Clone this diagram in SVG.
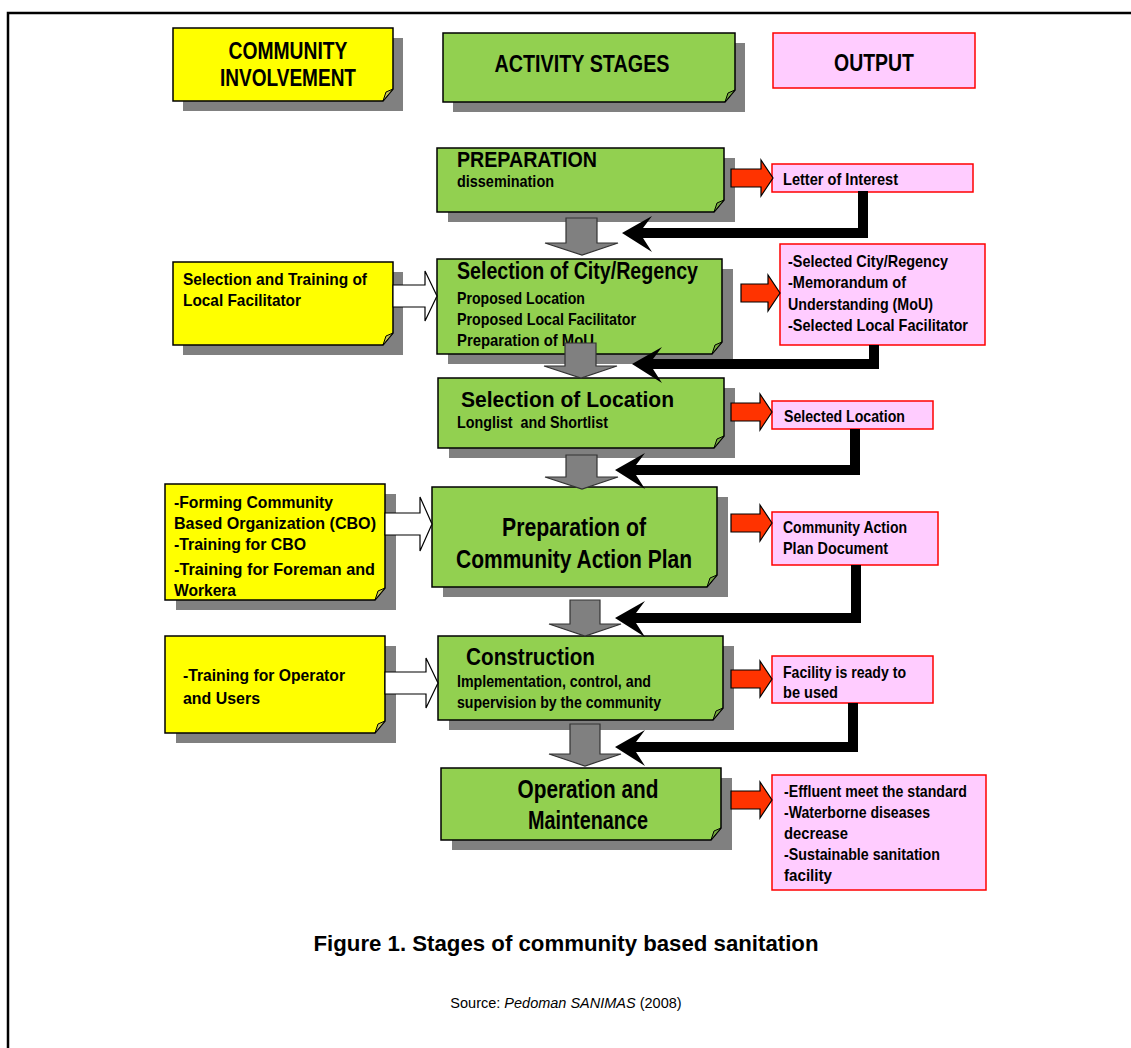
<svg xmlns="http://www.w3.org/2000/svg" width="1131" height="1048" viewBox="0 0 1131 1048">
<style>
text{font-family:"Liberation Sans Narrow","Liberation Sans",Arial,sans-serif;font-weight:bold;fill:#000}
.sh{fill:#808080}
.g{fill:#92D050;stroke:#000;stroke-width:1.5}
.y{fill:#FFFF00;stroke:#000;stroke-width:1.5}
.p{fill:#FFCCFF;stroke:#FF0000;stroke-width:1.5}
.fold{fill:#C8C850;stroke:#000;stroke-width:1}
.foldg{fill:#74A840;stroke:#000;stroke-width:1}
.ga{fill:#808080;stroke:#333;stroke-width:1.2}
.ra{fill:#FF3300;stroke:#000;stroke-width:1.2}
.wa{fill:#FFFFFF;stroke:#000;stroke-width:1.2}
.ba{fill:#000}
.hd{font-size:23px}
.tt{font-size:24px}
.t2{font-size:22px}
.bg{font-size:25px}
.sm{font-size:17px}
.s2{font-size:16px}
.cap{font-size:22px}
.src{font-family:"Liberation Sans",Arial,sans-serif;font-size:14.5px;font-weight:normal}
</style>

<path d="M8,1048 V13 H1131" fill="none" stroke="#000" stroke-width="2.5"/>

<!-- Header nodes -->
<g id="hdr-community">
<rect class="sh" x="183" y="38" width="220" height="73"/>
<path class="y" d="M173,28 H393 V89 L383,101 H173 Z"/>
<path class="fold" d="M393,89 L383,101 L386,92 Z"/>
<text class="hd" x="288" y="59" text-anchor="middle" textLength="119" lengthAdjust="spacingAndGlyphs">COMMUNITY</text>
<text class="hd" x="288" y="86" text-anchor="middle" textLength="136" lengthAdjust="spacingAndGlyphs">INVOLVEMENT</text>
</g>
<g id="hdr-activity">
<rect class="sh" x="453" y="43" width="292" height="69"/>
<path class="g" d="M443,33 H735 V90 L725,102 H443 Z"/>
<path class="foldg" d="M735,90 L725,102 L728,93 Z"/>
<text class="hd" x="582" y="72" text-anchor="middle" textLength="175" lengthAdjust="spacingAndGlyphs">ACTIVITY STAGES</text>
</g>
<g id="hdr-output">
<rect class="p" x="773" y="33" width="202" height="55"/>
<text class="hd" x="874" y="71" text-anchor="middle" textLength="80" lengthAdjust="spacingAndGlyphs">OUTPUT</text>
</g>

<!-- Stage nodes -->
<g id="n1-preparation">
<rect class="sh" x="448" y="158" width="287" height="64"/>
<path class="g" d="M437,148 H724 V200 L714,212 H437 Z"/>
<path class="foldg" d="M724,200 L714,212 L717,203 Z"/>
<text class="t2" x="457" y="167" textLength="140" lengthAdjust="spacingAndGlyphs">PREPARATION</text>
<text class="s2" x="457" y="187" textLength="97" lengthAdjust="spacingAndGlyphs">dissemination</text>
</g>
<g id="o1-letter">
<rect class="p" x="772" y="164" width="201" height="28"/>
<text class="sm" x="783" y="185" textLength="115" lengthAdjust="spacingAndGlyphs">Letter of Interest</text>
</g>

<g id="n2-city">
<rect class="sh" x="448" y="269" width="285" height="95"/>
<path class="g" d="M437,259 H722 V342 L712,354 H437 Z"/>
<path class="foldg" d="M722,342 L712,354 L715,345 Z"/>
<text class="tt" x="457" y="279" textLength="241" lengthAdjust="spacingAndGlyphs">Selection of City/Regency</text>
<text class="sm" x="457" y="304" textLength="128" lengthAdjust="spacingAndGlyphs">Proposed Location</text>
<text class="sm" x="457" y="325" textLength="179" lengthAdjust="spacingAndGlyphs">Proposed Local Facilitator</text>
<text class="sm" x="457" y="346" textLength="137" lengthAdjust="spacingAndGlyphs">Preparation of MoU</text>
</g>
<g id="y2-facilitator">
<rect class="sh" x="183" y="272" width="220" height="83"/>
<path class="y" d="M173,262 H393 V333 L383,345 H173 Z"/>
<path class="fold" d="M393,333 L383,345 L386,336 Z"/>
<text class="sm" x="183" y="285" textLength="184" lengthAdjust="spacingAndGlyphs">Selection and Training of</text>
<text class="sm" x="183" y="306" textLength="118" lengthAdjust="spacingAndGlyphs">Local Facilitator</text>
</g>
<g id="o2-city">
<rect class="p" x="780" y="244" width="205" height="101"/>
<text class="sm" x="788" y="267" textLength="160" lengthAdjust="spacingAndGlyphs">-Selected City/Regency</text>
<text class="sm" x="788" y="288" textLength="118" lengthAdjust="spacingAndGlyphs">-Memorandum of</text>
<text class="sm" x="788" y="310" textLength="145" lengthAdjust="spacingAndGlyphs">Understanding (MoU)</text>
<text class="sm" x="788" y="331" textLength="180" lengthAdjust="spacingAndGlyphs">-Selected Local Facilitator</text>
</g>

<g id="n3-location">
<rect class="sh" x="449" y="388" width="286" height="70"/>
<path class="g" d="M438,378 H724 V436 L714,448 H438 Z"/>
<path class="foldg" d="M724,436 L714,448 L717,439 Z"/>
<text class="t2" x="461" y="407" textLength="213" lengthAdjust="spacingAndGlyphs">Selection of Location</text>
<text class="s2" x="457" y="428" textLength="151" lengthAdjust="spacingAndGlyphs" xml:space="preserve">Longlist  and Shortlist</text>
</g>
<g id="o3-location">
<rect class="p" x="772" y="401" width="161" height="28"/>
<text class="sm" x="784" y="422" textLength="121" lengthAdjust="spacingAndGlyphs">Selected Location</text>
</g>

<g id="n4-cap">
<rect class="sh" x="443" y="497" width="285" height="100"/>
<path class="g" d="M432,487 H717 V575 L707,587 H432 Z"/>
<path class="foldg" d="M717,575 L707,587 L710,578 Z"/>
<text class="bg" x="574" y="536" text-anchor="middle" textLength="144" lengthAdjust="spacingAndGlyphs">Preparation of</text>
<text class="bg" x="574" y="568" text-anchor="middle" textLength="236" lengthAdjust="spacingAndGlyphs">Community Action Plan</text>
</g>
<g id="y4-cbo">
<rect class="sh" x="176" y="494" width="220" height="116"/>
<path class="y" d="M165,484 H385 V588 L375,600 H165 Z"/>
<path class="fold" d="M385,588 L375,600 L378,591 Z"/>
<text class="sm" x="174" y="508" textLength="159" lengthAdjust="spacingAndGlyphs">-Forming Community</text>
<text class="sm" x="174" y="529" textLength="202" lengthAdjust="spacingAndGlyphs">Based Organization (CBO)</text>
<text class="sm" x="174" y="550" textLength="132" lengthAdjust="spacingAndGlyphs">-Training for CBO</text>
<text class="sm" x="174" y="575" textLength="201" lengthAdjust="spacingAndGlyphs">-Training for Foreman and</text>
<text class="sm" x="174" y="596" textLength="62" lengthAdjust="spacingAndGlyphs">Workera</text>
</g>
<g id="o4-cap">
<rect class="p" x="772" y="512" width="166" height="53"/>
<text class="sm" x="783" y="533" textLength="124" lengthAdjust="spacingAndGlyphs">Community Action</text>
<text class="sm" x="783" y="554" textLength="105" lengthAdjust="spacingAndGlyphs">Plan Document</text>
</g>

<g id="n5-construction">
<rect class="sh" x="449" y="646" width="285" height="84"/>
<path class="g" d="M438,636 H723 V708 L713,720 H438 Z"/>
<path class="foldg" d="M723,708 L713,720 L716,711 Z"/>
<text class="tt" x="466" y="665" textLength="129" lengthAdjust="spacingAndGlyphs">Construction</text>
<text class="sm" x="457" y="687" textLength="194" lengthAdjust="spacingAndGlyphs">Implementation, control, and</text>
<text class="sm" x="457" y="708" textLength="204" lengthAdjust="spacingAndGlyphs">supervision by the community</text>
</g>
<g id="y5-operator">
<rect class="sh" x="176" y="646" width="220" height="97"/>
<path class="y" d="M165,636 H385 V721 L375,733 H165 Z"/>
<path class="fold" d="M385,721 L375,733 L378,724 Z"/>
<text class="sm" x="183" y="681" textLength="162" lengthAdjust="spacingAndGlyphs">-Training for Operator</text>
<text class="sm" x="183" y="704" textLength="77" lengthAdjust="spacingAndGlyphs">and Users</text>
</g>
<g id="o5-facility">
<rect class="p" x="772" y="656" width="161" height="47"/>
<text class="sm" x="783" y="678" textLength="123" lengthAdjust="spacingAndGlyphs">Facility is ready to</text>
<text class="sm" x="783" y="698" textLength="55" lengthAdjust="spacingAndGlyphs">be used</text>
</g>

<g id="n6-om">
<rect class="sh" x="452" y="778" width="280" height="72"/>
<path class="g" d="M441,768 H721 V828 L711,840 H441 Z"/>
<path class="foldg" d="M721,828 L711,840 L714,831 Z"/>
<text class="bg" x="588" y="798" text-anchor="middle" textLength="141" lengthAdjust="spacingAndGlyphs">Operation and</text>
<text class="bg" x="588" y="829" text-anchor="middle" textLength="120" lengthAdjust="spacingAndGlyphs">Maintenance</text>
</g>
<g id="o6-effluent">
<rect class="p" x="772" y="775" width="214" height="115"/>
<text class="sm" x="784" y="797" textLength="183" lengthAdjust="spacingAndGlyphs">-Effluent meet the standard</text>
<text class="sm" x="784" y="818" textLength="146" lengthAdjust="spacingAndGlyphs">-Waterborne diseases</text>
<text class="sm" x="784" y="839" textLength="64" lengthAdjust="spacingAndGlyphs">decrease</text>
<text class="sm" x="784" y="860" textLength="156" lengthAdjust="spacingAndGlyphs">-Sustainable sanitation</text>
<text class="sm" x="784" y="881" textLength="48" lengthAdjust="spacingAndGlyphs">facility</text>
</g>

<!-- Connectors -->
<g id="connectors">
<path class="ga" d="M566,218 H597 V243 H618 L582,255 L545,243 H566 Z"/>
<path class="ga" d="M565,343 H596 V366 H617 L581,378 L544,366 H565 Z"/>
<path class="ga" d="M566,455 H597 V477 H618 L582,489 L545,477 H566 Z"/>
<path class="ga" d="M570,600 H600 V624 H621 L585,636 L549,624 H570 Z"/>
<path class="ga" d="M570,724 H600 V754 H621 L585,766 L549,754 H570 Z"/>
<path class="ra" d="M731,169 H761 V160 L773,178 L761,196 V187 H731 Z"/>
<path class="ra" d="M741,284 H768 V275 L780,293 L768,311 V302 H741 Z"/>
<path class="ra" d="M731,403 H760 V394 L772,412 L760,430 V421 H731 Z"/>
<path class="ra" d="M731,514 H760 V505 L772,523 L760,541 V532 H731 Z"/>
<path class="ra" d="M731,670 H760 V661 L772,679 L760,697 V688 H731 Z"/>
<path class="ra" d="M731,791 H760 V782 L772,800 L760,818 V809 H731 Z"/>
<path class="wa" d="M393,285 H425 V271 L437,296 L425,321 V307 H393 Z"/>
<path class="wa" d="M385,513 H420 V497 L432,524 L420,551 V535 H385 Z"/>
<path class="wa" d="M385,672 H426 V658 L438,683 L426,708 V694 H385 Z"/>
<path class="ba" d="M858,191 H868 V238 H643 L652,252 L622,233 L652,216 L643,228 H858 Z"/>
<path class="ba" d="M869,345 H879 V369 H653 L662,383 L632,364 L662,347 L653,359 H869 Z"/>
<path class="ba" d="M850,429 H860 V475 H636 L645,489 L615,470 L645,453 L636,465 H850 Z"/>
<path class="ba" d="M851,565 H861 V623 H636 L645,637 L615,618 L645,601 L636,613 H851 Z"/>
<path class="ba" d="M848,703 H858 V752 H636 L645,766 L615,747 L645,730 L636,742 H848 Z"/>
</g>

<text class="cap" x="566" y="951" text-anchor="middle" textLength="505" lengthAdjust="spacingAndGlyphs">Figure 1. Stages of community based sanitation</text>
<text class="src" x="566" y="1008" text-anchor="middle">Source: <tspan font-style="italic">Pedoman SANIMAS</tspan> (2008)</text>
</svg>
